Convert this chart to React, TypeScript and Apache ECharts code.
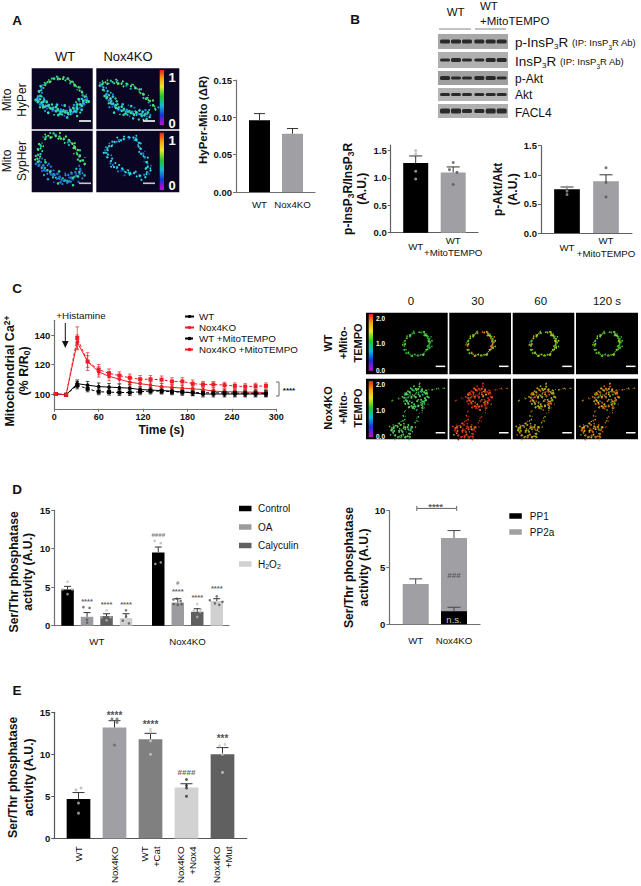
import React, { useEffect, useRef } from "react";
import * as echarts from "echarts";

const FONT = "Liberation Sans";

// ---------- Panel A ----------
const aCategories = ["WT", "Nox4KO"];
const aValues = [0.096, 0.078];
const aErrTop = [0.105, 0.085];

// ---------- Panel B ----------
const b1Categories = ["WT", "WT\n+MitoTEMPO"];
const b1Values = [1.27, 1.1];
const b1ErrTop = [1.4, 1.2];
const b1Dots = [[[0, 1.5], [0, 1.44], [0, 1.12], [0, 0.98]], [[0, 1.28], [-0.1, 1.15], [0.1, 1.1], [0, 0.88]]];
const b2Values = [0.75, 0.89];
const b2ErrTop = [0.79, 1.0];
const b2Dots = [[[0, 0.79], [0, 0.72], [0, 0.66]], [[0, 1.12], [0, 0.87], [0, 0.62]]];
const blotLabels = ["p-Akt", "Akt", "FACL4"];
const blotBandHeights = [[4, 4, 4, 4, 4, 4], [3, 4, 3, 3, 4, 4], [4, 3, 3, 4, 4, 3], [3, 3, 3, 3, 3, 3], [5, 5, 4, 4, 5, 5]];

// ---------- Panel C ----------
const cTimes = [2, 16, 31, 45, 60, 74, 88, 102, 116, 130, 145, 159, 173, 187, 201, 215, 230, 244, 258, 272, 286];
const cWT = [100, 99.5, 107, 106, 105, 104.7, 104.3, 104, 103, 102.7, 102.3, 102, 101.3, 100.8, 100, 100, 100, 100, 100, 100, 100];
const cNox = [100, 99.5, 135, 122, 115, 112, 110, 108, 107, 106, 105, 104.5, 104, 103.5, 103, 102, 101.5, 101.5, 101.3, 101.2, 101];
const cWTMito = [100, 99.5, 106, 103.5, 101.5, 101.3, 101, 101, 101.5, 102, 102, 101.5, 101.3, 101, 100.8, 100.8, 100.7, 100.6, 100.5, 100.5, 100.3];
const cNoxMito = [100, 99.5, 138, 122, 116.5, 114, 112.5, 111, 110, 110, 109.7, 108.5, 108.5, 107, 106.5, 106.5, 106, 105.5, 105, 105.3, 105.5];
const cErrWT = [0, 0.5, 2.5, 2.5, 2.5, 2.5, 2.5, 2.5, 2, 2, 2, 2, 2, 2, 2, 2, 2, 2, 2, 2, 2];
const cErrNox = [0, 0.5, 5, 6, 3.5, 3, 3, 2.5, 2.5, 2.5, 2, 2, 2, 2, 2, 2, 2, 2, 2, 2, 2];
const cErrWTMito = [0, 0.5, 2.5, 2, 2, 2, 2, 2, 2, 2, 2, 2, 2, 2, 2, 2, 2, 2, 2, 2, 2];
const cErrNoxMito = [0, 0.5, 7.5, 4, 3.5, 3, 2.5, 2.5, 2.5, 2.5, 2.5, 2.5, 2.5, 2.5, 2, 2, 2, 2, 2, 2, 2];
const cXTicks = [0, 60, 120, 180, 240, 300];
const cYTicks = [100, 120, 140];
const cFrames = ["0", "30", "60", "120 s"];

// ---------- Panel D ----------
const d1Categories = ["WT", "Nox4KO"];
const d1Names = ["Control", "OA", "Calyculin", "H2O2"];
const d1Colors = ["#000000", "#9c9ca0", "#606060", "#d0d0d0"];
const d1Values = [[4.7, 9.5], [1.15, 3.0], [1.25, 1.8], [1.0, 3.2]];
const d1ErrTop = [[5.1, 10.2], [1.7, 3.5], [1.55, 2.2], [1.55, 3.5]];
const d1Dots = [
  [[[0, 5.7], [-0.14, 4.7], [0.13, 4.7], [0, 4.1]], [[-0.1, 11], [0.07, 10.7], [-0.08, 8], [0.07, 8.2]]],
  [[[-0.1, 2.4], [0.07, 2.3], [0, 0.8], [0, 0.4]], [[-0.12, 3.4], [-0.03, 3.5], [0.08, 3.2], [-0.11, 2.8], [0, 2.7], [0.11, 2.8]]],
  [[[0, 2.0], [-0.14, 1.1], [0.11, 1.1], [0, 0.7]], [[0, 2.8], [-0.09, 1.95], [0.08, 1.8], [0, 1.15], [0.1, 2.1]]],
  [[[0, 2.0], [0, 1.2], [-0.09, 0.65], [0.08, 0.3]], [[0, 3.8], [-0.19, 3.3], [0.16, 3.1], [-0.05, 2.9], [0.07, 2.7]]],
];
const d1DotColors = ["#b8b8b8", "#555555", "#bbbbbb", "#555555"];
const d1Stars = [[0, 1, 3.1], [0, 2, 2.7], [0, 3, 2.8], [1, 1, 4.4], [1, 2, 3.6], [1, 3, 4.8]];
const d1Hashes = [[1, 0, 11.8, "####"], [1, 1, 5.66, "#"]];
const d2Categories = ["WT", "Nox4KO"];
const d2PP1 = [0, 1.15];
const d2PP2a = [3.55, 6.45];
const d2ErrPP1 = 1.5;
const d2ErrTotal = [4.0, 8.25];

// ---------- Panel E ----------
const eCategories = ["WT", "Nox4KO", "WT\n+Cat", "Nox4KO\n+Nox4", "Nox4KO\n+Mut"];
const eValues = [4.7, 13.2, 11.8, 6.05, 10];
const eErrTop = [5.45, 14, 12.5, 6.5, 10.8];
const eColors = ["#000000", "#a0a0a4", "#808080", "#d2d2d2", "#606060"];
const eDotColors = ["#b5b5b5", "#666666", "#c8c8c8", "#333333", "#c8c8c8"];
const eDots = [
  [[-0.07, 5.77], [0.07, 6.0], [0, 4.2], [0, 3.0]],
  [[-0.07, 14.2], [0.07, 14.2], [0.07, 13.8], [0, 11.1]],
  [[0, 13], [0, 12.7], [0, 11.6], [0, 10]],
  [[0, 7], [0, 6.3], [0, 6], [0, 5]],
  [[-0.08, 11], [0.07, 11.2], [0, 10], [0, 7.85]],
];
const eStars = [[1, 14.6, "****"], [2, 13.6, "****"], [4, 11.9, "***"]];
const eHashes = [[3, 7.8, "####"]];

// ---------- helpers ----------
const rainbow = {
  type: "linear", x: 0, y: 0, x2: 0, y2: 1,
  colorStops: [
    { offset: 0, color: "#e8201c" }, { offset: 0.15, color: "#f5a010" }, { offset: 0.3, color: "#e8e820" },
    { offset: 0.48, color: "#20c830" }, { offset: 0.65, color: "#10b8d8" }, { offset: 0.82, color: "#1830d8" }, { offset: 1, color: "#c010d0" },
  ],
};

const errRender = (color: string, cap: number, lw = 1) => (_: any, api: any) => {
  const x = api.value(0);
  const lo = api.coord([x, api.value(1)]);
  const hi = api.coord([x, api.value(2)]);
  const st = { stroke: color, lineWidth: lw };
  return {
    type: "group",
    children: [
      { type: "line", shape: { x1: lo[0], y1: lo[1], x2: hi[0], y2: hi[1] }, style: st },
      { type: "line", shape: { x1: hi[0] - cap, y1: hi[1], x2: hi[0] + cap, y2: hi[1] }, style: st },
    ],
  };
};

const errSeries = (g: number, data: number[][], color: string, cap: number, z = 4, lw = 1) => ({
  type: "custom", xAxisIndex: g, yAxisIndex: g, z, silent: true, clip: false,
  encode: { x: 0, y: [1, 2] }, renderItem: errRender(color, cap, lw), data,
});

const dotSeries = (g: number, data: any[], size = 3) => ({
  type: "scatter", xAxisIndex: g, yAxisIndex: g, z: 5, silent: true, clip: false, symbolSize: size, data,
});

const markSeries = (g: number, data: any[], fontSize = 7, color = "#222", weight: any = "bold") => ({
  type: "scatter", xAxisIndex: g, yAxisIndex: g, z: 6, silent: true, clip: false, symbolSize: 1,
  itemStyle: { color: "transparent" }, encode: { x: 0, y: 1 }, data,
  label: { show: true, position: "inside", formatter: (p: any) => p.value[2], fontSize, fontWeight: weight, color, fontFamily: FONT },
});

type Cfg = {
  left: number; right: number; top: number; bottom: number; c0: number; step: number;
  ymin: number; ymax: number; yticks: number[]; labels: string[]; ticksAt: number[];
  name: any; nameGap: number; nameShift?: number; axisColor?: string; labelFont?: number; margin?: number;
  rotate?: number; vAlign?: string; rich?: any; nameFont?: number; nameLine?: number;
};

const grids: any[] = [], xAxes: any[] = [], yAxes: any[] = [];
function panel(c: Cfg) {
  const color = c.axisColor || "#707070";
  const shift = c.nameShift || 0;
  const i = grids.length;
  grids.push({ left: c.left, top: c.top, width: c.right - c.left, height: c.bottom - c.top });
  xAxes.push({
    type: "value", gridIndex: i, min: (c.left - c.c0) / c.step, max: (c.right - c.c0) / c.step,
    splitLine: { show: false }, axisTick: { show: false },
    axisLine: { onZero: false, lineStyle: { color, width: 1.2 } },
    axisLabel: {
      customValues: c.ticksAt, formatter: (v: number) => c.labels[Math.round(v)] ?? "",
      fontSize: c.labelFont || 9.7, color: "#111", fontFamily: FONT, margin: c.margin ?? 6, rotate: c.rotate || 0,
      lineHeight: 12.5, verticalAlign: c.vAlign,
    },
  });
  yAxes.push({
    type: "value", gridIndex: i, min: c.ymin, max: c.ymax, splitLine: { show: false },
    axisLine: { onZero: false, show: true, lineStyle: { color, width: 1.2 } },
    axisTick: { show: true, length: 3, customValues: c.yticks, lineStyle: { color } },
    axisLabel: { customValues: c.yticks, fontSize: 9.5, fontWeight: "bold", color: "#111", fontFamily: FONT, margin: 4,
      formatter: (v: number) => (c.ymax < 1 ? v.toFixed(2) : c.ymax < 3 ? v.toFixed(1) : String(v)) },
    name: c.name, nameLocation: "middle", nameGap: c.nameGap, nameMoveOverlap: false,
    nameTextStyle: {
      fontSize: c.nameFont || 12.2, fontWeight: "bold", color: "#111", fontFamily: FONT, lineHeight: c.nameLine || 14.5,
      padding: shift > 0 ? [0, shift, 0, 0] : [0, 0, 0, -shift], rich: c.rich,
    },
  });
  return i;
}

const subRich = {
  s: { fontSize: 8.5, fontWeight: "bold", verticalAlign: "bottom", fontFamily: FONT, color: "#111", lineHeight: 14.5 },
  u: { fontSize: 8.5, fontWeight: "bold", verticalAlign: "top", fontFamily: FONT, color: "#111", lineHeight: 14.5 },
};

function singleBars(g: number, values: number[], errTop: number[], colors: string[], barWidth: number, cap: number, errColor = "#333") {
  return [
    {
      type: "bar", xAxisIndex: g, yAxisIndex: g, barWidth, z: 3, silent: true,
      data: values.map((v, k) => ({ value: [k, v], itemStyle: { color: colors[k] } })),
    },
    errSeries(g, values.map((v, k) => [k, v, errTop[k]]), errColor, cap),
  ];
}
const dotItems = (dots: number[][][], colors: string[]) =>
  dots.flatMap((arr, k) => arr.map(([j, v]) => ({ value: [k + j, v], itemStyle: { color: colors[k] } })));

// ---------- build chart ----------
function buildOption() {
  grids.length = 0; xAxes.length = 0; yAxes.length = 0;
  const series: any[] = [];

  // A
  const gA = panel({ left: 236, right: 315, top: 80, bottom: 192, c0: 259.5, step: 33, ymin: 0, ymax: 0.15, yticks: [0, 0.05, 0.1, 0.15],
    labels: aCategories, ticksAt: [0, 1], name: "HyPer-Mito (ΔR)", nameGap: 26, nameShift: -32, nameFont: 11.5, margin: 6 });
  series.push(...singleBars(gA, aValues, aErrTop, ["#000000", "#a0a0a4"], 21, 5.5));

  // B1
  const gB1 = panel({ left: 390.7, right: 478, top: 145, bottom: 232.7, c0: 415.7, step: 37.5, ymin: 0, ymax: 1.6, yticks: [0, 0.5, 1, 1.5],
    labels: b1Categories, ticksAt: [0, 1], name: "p-InsP{s|3}R/InsP{s|3}R\n(A.U.)", rich: subRich, nameGap: 21, margin: 14, vAlign: "middle", axisColor: "#606060", nameFont: 12 });
  series.push(...singleBars(gB1, b1Values, b1ErrTop, ["#000000", "#a0a0a4"], 25, 6.5));
  series.push(dotSeries(gB1, dotItems(b1Dots, ["#b5b5b5", "#555555"]), 3));

  // B2
  const gB2 = panel({ left: 541, right: 632, top: 145.7, bottom: 233, c0: 567, step: 39, ymin: 0, ymax: 1.5, yticks: [0, 0.5, 1, 1.5],
    labels: b1Categories, ticksAt: [0, 1], name: "p-Akt/Akt\n(A.U.)", nameGap: 21, margin: 14, vAlign: "middle", axisColor: "#606060", nameFont: 12 });
  series.push(...singleBars(gB2, b2Values, b2ErrTop, ["#000000", "#a0a0a4"], 25.7, 6.5));
  series.push(dotSeries(gB2, dotItems(b2Dots, ["#999999", "#555555"]), 3));

  // C
  const gC = grids.length;
  grids.push({ left: 54.3, top: 320.25, width: 222, height: 88.5 });
  xAxes.push({
    type: "value", gridIndex: gC, min: 0, max: 300, splitLine: { show: false },
    axisLine: { onZero: false, lineStyle: { color: "#707070", width: 1.2 } },
    axisTick: { show: true, length: 3, customValues: cXTicks, lineStyle: { color: "#707070" } },
    axisLabel: { customValues: cXTicks, fontSize: 9, fontWeight: "bold", color: "#111", fontFamily: FONT, margin: 4 },
    name: "Time (s)", nameLocation: "middle", nameGap: 15,
    nameTextStyle: { fontSize: 12, fontWeight: "bold", color: "#111", fontFamily: FONT, padding: [0, 8, 0, 0] },
  });
  yAxes.push({
    type: "value", gridIndex: gC, min: 90, max: 150, splitLine: { show: false },
    axisLine: { onZero: false, show: true, lineStyle: { color: "#707070", width: 1.2 } },
    axisTick: { show: true, length: 3, customValues: cYTicks, lineStyle: { color: "#707070" } },
    axisLabel: { customValues: cYTicks, fontSize: 9.5, fontWeight: "bold", color: "#111", fontFamily: FONT, margin: 4 },
    name: "Mitochondrial Ca{u|2+}\n(% R/R{s|0})", nameLocation: "middle", nameGap: 23, nameMoveOverlap: false,
    nameTextStyle: { fontSize: 12.5, fontWeight: "bold", color: "#111", fontFamily: FONT, lineHeight: 14.5, rich: subRich, padding: [0, 13, 0, 0] },
  });
  const cLines = [
    ["WT", cWT, cErrWT, "#000000", "solid", "circle"],
    ["Nox4KO", cNox, cErrNox, "#ee1c25", "solid", "circle"],
    ["WT +MitoTEMPO", cWTMito, cErrWTMito, "#000000", [3, 2], "rect"],
    ["Nox4KO +MitoTEMPO", cNoxMito, cErrNoxMito, "#ee1c25", [3, 2], "rect"],
  ] as any[];
  cLines.forEach(([name, vals, errs, color, dash, sym]) => {
    series.push({
      type: "line", name, xAxisIndex: gC, yAxisIndex: gC, z: 4, silent: true,
      data: cTimes.map((t, k) => [t, vals[k]]), symbol: sym, symbolSize: sym === "rect" ? 4 : 3.6,
      showSymbol: true, itemStyle: { color }, lineStyle: { color, width: 1, type: dash },
    });
    series.push(errSeries(gC, cTimes.map((t, k) => [t, vals[k] - errs[k], vals[k] + errs[k]]), color, 1.8, 3, 0.7));
    const down = (_: any, api: any) => {
      const lo = api.coord([api.value(0), api.value(1)]);
      return { type: "line", shape: { x1: lo[0] - 1.8, y1: lo[1], x2: lo[0] + 1.8, y2: lo[1] }, style: { stroke: color, lineWidth: 0.7 } };
    };
    series.push({ type: "custom", xAxisIndex: gC, yAxisIndex: gC, z: 3, silent: true, encode: { x: 0, y: 1 }, renderItem: down,
      data: cTimes.map((t, k) => [t, vals[k] - errs[k]]) });
  });

  // D1
  const gD1 = panel({ left: 54.3, right: 229, top: 510, bottom: 625.7, c0: 96.8, step: 90.7, ymin: 0, ymax: 15, yticks: [0, 5, 10, 15],
    labels: d1Categories, ticksAt: [0, 1], name: "Ser/Thr phosphatase\nactivity (A.U.)", nameGap: 19, nameShift: 8, margin: 10 });
  const slot = 19.5 / 90.7;
  d1Names.forEach((name, s) => {
    series.push({
      type: "bar", name, xAxisIndex: gD1, yAxisIndex: gD1, barWidth: 12.5, barGap: "56%", z: 3, silent: true,
      itemStyle: { color: d1Colors[s] }, data: d1Values[s].map((v, k) => [k, v]),
    });
    const off = (s - 1.5) * slot;
    series.push(errSeries(gD1, d1Values[s].map((v, k) => [k + off, v, d1ErrTop[s][k]]), "#333", 3.5, 4));
    series.push(dotSeries(gD1, d1Dots[s].flatMap((arr, k) => arr.map(([j, v]) => ({ value: [k + off + j * 0.4, v], itemStyle: { color: d1DotColors[s] } }))), 2.6));
  });
  series.push(markSeries(gD1, d1Stars.map(([k, s, y]) => [k + (s - 1.5) * slot, y, "****"]), 7.5, "#333"));
  series.push(markSeries(gD1, d1Hashes.map(([k, s, y, t]: any) => [k + (s - 1.5) * slot, y, t]), 6.2, "#555"));

  // D2 (PP2a is drawn up to the PP1 + PP2a total, behind PP1)
  const gD2 = panel({ left: 389.3, right: 480, top: 510.7, bottom: 624.3, c0: 415.7, step: 38.3, ymin: 0, ymax: 10, yticks: [0, 5, 10],
    labels: d2Categories, ticksAt: [0, 1], name: "Ser/Thr phosphatase\nactivity (A.U.)", nameGap: 18, nameLine: 15, margin: 10 });
  series.push({ type: "bar", name: "PP1", xAxisIndex: gD2, yAxisIndex: gD2, barWidth: 26, barGap: "-100%", z: 3, silent: true,
    itemStyle: { color: "#000" }, data: d2PP1.map((v, k) => [k, v]) });
  series.push({ type: "bar", name: "PP2a", xAxisIndex: gD2, yAxisIndex: gD2, barWidth: 26, barGap: "-100%", z: 2, silent: true,
    itemStyle: { color: "#a0a0a4" }, data: d2PP2a.map((v, k) => [k, v + d2PP1[k]]) });
  series.push(errSeries(gD2, d2ErrTotal.map((e, k) => [k, d2PP1[k] + d2PP2a[k], e]), "#444", 6.5));
  series.push(errSeries(gD2, [[1, d2PP1[1], d2ErrPP1]], "#444", 6.5));
  series.push(markSeries(gD2, [[1, 4.3, "###"]], 8, "#444"));
  series.push(markSeries(gD2, [[1, 0.42, "n.s."]], 9.5, "#fff", "normal"));
  series.push(markSeries(gD2, [[0.52, 10.35, "****"]], 9.5, "#333"));
  series.push({
    type: "custom", xAxisIndex: gD2, yAxisIndex: gD2, silent: true, clip: false, encode: { x: 0, y: 1 }, z: 5,
    data: [[0.03, 10.2, 1.07]],
    renderItem: (_: any, api: any) => {
      const a = api.coord([api.value(0), api.value(1)]);
      const b = api.coord([api.value(2), api.value(1)]);
      const st = { stroke: "#666", lineWidth: 1 };
      return { type: "group", children: [
        { type: "line", shape: { x1: a[0], y1: a[1], x2: b[0], y2: b[1] }, style: st },
        { type: "line", shape: { x1: a[0], y1: a[1] - 2.5, x2: a[0], y2: a[1] + 2.5 }, style: st },
        { type: "line", shape: { x1: b[0], y1: b[1] - 2.5, x2: b[0], y2: b[1] + 2.5 }, style: st },
      ] };
    },
  });

  // E
  const gE = panel({ left: 54.3, right: 246.7, top: 712.3, bottom: 839.7, c0: 78.5, step: 36, ymin: 0, ymax: 15, yticks: [0, 5, 10, 15],
    labels: eCategories, ticksAt: [0, 1, 2, 3, 4], name: "Ser/Thr phosphatase\nactivity (A.U.)", nameGap: 17, nameShift: 4, nameLine: 16, rotate: 90, margin: 8, axisColor: "#555" });
  series.push(...singleBars(gE, eValues, eErrTop, eColors, 23.7, 6));
  series.push(dotSeries(gE, dotItems(eDots, eDotColors), 3));
  series.push(markSeries(gE, eStars, 10, "#222"));
  series.push(markSeries(gE, eHashes, 8, "#333"));

  const legendText = { fontFamily: FONT, color: "#111" };
  const legend: any[] = [
    {
      left: 184, top: 311, padding: 0, orient: "vertical", itemGap: 0, itemWidth: 9, itemHeight: 4, selectedMode: false,
      textStyle: { ...legendText, fontSize: 9.8, lineHeight: 11 },
      data: cLines.map((l) => l[0]),
    },
    {
      left: 239, top: 503, padding: 0, orient: "vertical", itemGap: 7.5, itemWidth: 12.5, itemHeight: 5.5, icon: "rect", selectedMode: false,
      textStyle: { ...legendText, fontSize: 10, lineHeight: 11, padding: [0, 0, 0, 1.5], rich: { s: { fontSize: 7, verticalAlign: "bottom", fontFamily: FONT, color: "#111", lineHeight: 11 } } },
      formatter: (n: string) => (n === "H2O2" ? "H{s|2}O{s|2}" : n),
      data: d1Names,
    },
    {
      left: 509.3, top: 510.5, padding: 0, orient: "vertical", itemGap: 5, itemWidth: 12.5, itemHeight: 5.5, icon: "rect", selectedMode: false,
      textStyle: { ...legendText, fontSize: 10, lineHeight: 11, padding: [0, 0, 0, 3] },
      data: ["PP1", "PP2a"],
    },
  ];

  return { animation: false, textStyle: { fontFamily: FONT }, grid: grids, xAxis: xAxes, yAxis: yAxes, series, legend, graphic: { elements: buildGraphics() } };
}

// ---------- decoration (micrographs, blots, labels) ----------
function txt(x: number, y: number, text: string, fontSize: number, extra: any = {}, rotation = 0) {
  return {
    type: "text", x, y, rotation, silent: true,
    style: { text, fontSize, fontFamily: FONT, fill: "#111", align: "center", verticalAlign: "middle", lineHeight: fontSize * 1.28, ...extra },
  };
}
const rect = (x: number, y: number, w: number, h: number, fill: any) => ({ type: "rect", silent: true, shape: { x, y, width: w, height: h }, style: { fill } });

// Scatters mitochondria-like specks along an outline; the pattern is fixed, not random.
function speck(pts: number[][], palette: string[], spread: number, r: number, step = 1.5) {
  const out: any[] = [];
  let k = 0;
  const stride = step * 0.7;
  for (let i = 0; i + 1 < pts.length; i++) {
    const [x0, y0] = pts[i], [x1, y1] = pts[i + 1];
    const len = Math.hypot(x1 - x0, y1 - y0) || 1;
    const nx = -(y1 - y0) / len, ny = (x1 - x0) / len;
    for (let d = 0; d < len; d += stride, k++) {
      const t = d / len;
      const off = spread * Math.sin(k * 2.399) * (0.55 + 0.45 * Math.cos(k * 0.77));
      const along = 0.9 * Math.sin(k * 1.31);
      const c = palette[Math.floor(Math.abs(Math.sin(k * 0.91)) * palette.length * 0.999)];
      out.push({
        type: "circle", silent: true,
        shape: { cx: x0 + (x1 - x0) * t + nx * off + (x1 - x0) / len * along, cy: y0 + (y1 - y0) * t + ny * off + (y1 - y0) / len * along, r: r * (0.55 + 0.5 * Math.abs(Math.sin(k * 1.73))) },
        style: { fill: c },
      });
    }
  }
  return out;
}
const move = (pts: number[][], dx: number, dy = 0) => pts.map(([x, y]) => [x + dx, y + dy]);

function buildGraphics() {
  const g: any[] = [];
  const letters: [string, number, number][] = [["A", 17, 20], ["B", 355, 19], ["C", 17, 288], ["D", 17, 489], ["E", 17, 690]];
  letters.forEach(([t, x, y]) => g.push(txt(x, y, t, 13.5, { fontWeight: "bold" })));

  // ---- A micrographs ----
  g.push(txt(65, 56, "WT", 13), txt(128, 56, "Nox4KO", 13));
  g.push(txt(14.5, 100, "Mito\nHyPer", 12, { lineHeight: 15 }, Math.PI / 2), txt(14.5, 161, "Mito\nSypHer", 12, { lineHeight: 15 }, Math.PI / 2));
  const navy = "#0a0522";
  g.push(rect(31.7, 68.3, 61, 61, navy), rect(96.3, 68.3, 83, 61, navy), rect(31.7, 130.7, 61, 61.6, navy), rect(96.3, 130.7, 83, 61.6, navy));
  const upper = ["#40e080", "#20c8a0", "#18b0c8", "#60e860"];
  const lower = ["#1890e8", "#20c8d8", "#2858d8", "#30e0c0", "#38d8a0"];
  const sparse = ["#1888e0", "#20c8e0", "#2050d0", "#30e0d8"];
  g.push(...speck([[43, 85], [55, 78], [68, 79], [78, 88], [87, 98]], upper, 2, 1.1));
  g.push(...speck([[43, 85], [38, 97]], lower, 3, 1.3));
  g.push(...speck([[38, 97], [43, 105], [57, 110], [72, 113], [83, 102], [87, 98]], lower, 6, 1.4, 0.8));
  g.push(...speck([[100, 83], [117, 82], [135, 87], [147, 98], [157, 110]], upper, 3, 1.1));
  g.push(...speck([[100, 83], [107, 93]], lower, 3, 1.2));
  g.push(...speck([[107, 93], [115, 107], [133, 113], [150, 115]], lower, 6, 1.3, 0.8));
  g.push(...speck([[43, 137], [57, 135], [72, 143], [80, 157], [85, 165]], upper, 4, 1.2));
  g.push(...speck([[42, 143], [37, 157], [38, 160]], upper, 4, 1.2));
  g.push(...speck([[38, 160], [50, 173], [67, 182], [83, 170]], ["#20b8a8", "#38d890", "#1898d8", "#2070d8"], 7, 1.3, 0.9));
  g.push(...speck([[105, 150], [117, 140], [135, 137], [140, 148], [147, 163], [150, 170]], sparse, 3, 1.1));
  g.push(...speck([[105, 150], [113, 165], [128, 173], [143, 177], [150, 170]], sparse, 4, 1.1));
  [[68.3, 70, 125, 121, "1", "0", 77, 123, "#fff"], [130.7, 132.7, 190, 183.3, "1", "0", 140, 185, "#c8c8c8"]].forEach((r: any) => {
    g.push(rect(159.7, r[1], 4.3, r[2] - r[1], rainbow));
    g.push(txt(172, r[6], r[4], 13, { fill: "#fff", fontWeight: "bold" }), txt(172, r[7], r[5], 13, { fill: "#fff", fontWeight: "bold" }));
    g.push(rect(79, r[3] - 0.8, 12, 1.6, r[8]), rect(143, r[3] - 0.8, 12, 1.6, r[8]));
  });

  // ---- B blots ----
  g.push(txt(455.7, 12, "WT", 11.5));
  g.push(txt(480, 13.5, "WT\n+MitoTEMPO", 11.5, { align: "left", lineHeight: 15 }));
  g.push({ type: "line", silent: true, shape: { x1: 439, y1: 29, x2: 471, y2: 29 }, style: { stroke: "#999", lineWidth: 1.2 } });
  g.push({ type: "line", silent: true, shape: { x1: 475, y1: 29, x2: 506, y2: 29 }, style: { stroke: "#999", lineWidth: 1.2 } });
  const rows = [[34, 49], [52, 68], [71, 85], [88, 101], [104, 118]];
  const rowBg = ["#a8a8a8", "#b0b0b0", "#a0a0a0", "#b4b4b4", "#b0b0b0"];
  const bandX = [445, 456, 467, 479.3, 490.7, 501.7];
  rows.forEach(([a, b], r) => {
    g.push(rect(438, a, 70, b - a, rowBg[r]));
    bandX.forEach((x, k) => {
      const h = blotBandHeights[r][k];
      g.push({ type: "rect", silent: true, shape: { x: x - 5, y: (a + b) / 2 - h / 2, width: 10, height: h, r: 1.5 }, style: { fill: "#2a2a2a" } });
    });
  });
  const labRich = {
    sub: { fontSize: 8, verticalAlign: "bottom", fontFamily: FONT, fill: "#111", color: "#111", lineHeight: 15 },
    m: { fontSize: 9.5, fontFamily: FONT, color: "#111", fill: "#111", lineHeight: 15 },
    ms: { fontSize: 6.5, verticalAlign: "bottom", fontFamily: FONT, color: "#111", fill: "#111", lineHeight: 15 },
  };
  g.push(txt(515, 42, "p-InsP{sub|3}R {m|(IP: InsP}{ms|3}{m|R Ab)}", 13.5, { align: "left", rich: labRich }));
  g.push(txt(515, 61, "InsP{sub|3}R {m|(IP: InsP}{ms|3}{m|R Ab)}", 13.5, { align: "left", rich: labRich }));
  [78.5, 95, 113].forEach((y, k) => g.push(txt(515, y, blotLabels[k], 12, { align: "left" })));

  // ---- C annotations ----
  g.push(txt(81, 315, "+Histamine", 9.8));
  g.push({ type: "line", silent: true, shape: { x1: 65.3, y1: 323, x2: 65.3, y2: 341 }, style: { stroke: "#111", lineWidth: 1 } });
  g.push({ type: "polygon", silent: true, shape: { points: [[62, 341], [68.6, 341], [65.3, 348]] }, style: { fill: "#111" } });
  g.push({ type: "polyline", silent: true, shape: { points: [[276, 382], [279, 382], [279, 396], [276, 396]] }, style: { stroke: "#666", lineWidth: 1, fill: "none" } });
  g.push(txt(289, 390, "****", 8, { fontWeight: "bold" }));

  // ---- C micrographs ----
  const cols = [[366, 447.7], [449.3, 511], [512.7, 574.3], [576, 638]];
  const titleX = [411, 477.7, 540.7, 607];
  cFrames.forEach((t, k) => g.push(txt(titleX[k], 301, t, 11.5)));
  g.push(txt(342.5, 343, "WT\n+Mito-\nTEMPO", 11, { fontWeight: "bold", lineHeight: 15 }, Math.PI / 2));
  g.push(txt(342.5, 408, "Nox4KO\n+Mito-\nTEMPO", 11, { fontWeight: "bold", lineHeight: 15 }, Math.PI / 2));
  const ring = [[-40, 337], [-33, 332], [-24, 332], [-19, 338], [-19, 348], [-26, 355], [-36, 356], [-43, 350], [-44, 343], [-40, 337]];
  const ringThick = [[-24, 333], [-17, 339], [-18, 348]];
  const proc = [[-58, 401], [-34, 394], [-18, 390], [-1, 388]];
  const spur = [[-30, 385], [-25, 381]];
  const body = [[-43, 393], [-31, 388], [-21, 393], [-23, 403], [-34, 408], [-41, 403], [-43, 393]];
  const bodyIn = [[-38, 396], [-28, 396], [-30, 403]];
  const armL = [[-43, 408], [-44, 420], [-51, 427]];
  const armR = [[-23, 405], [-31, 420], [-34, 428]];
  const blob = [[-56, 427], [-48, 425], [-36, 428], [-39, 437], [-51, 437], [-56, 432], [-56, 427]];
  const blobIn = [[-50, 430], [-42, 431]];
  const ringC = [["#20c030", "#60e030", "#30a040"], ["#e8a020", "#b0d020", "#e05020", "#60c030"], ["#a0d020", "#e8c020", "#50c030"], ["#30c830", "#90e020", "#50b030"]];
  const cellC = [["#20a848", "#40c860", "#30b090", "#60d050"], ["#e03018", "#f06010", "#d0b010", "#c02020"], ["#e06018", "#d0a020", "#c04010", "#90b020"], ["#a0b020", "#e0b020", "#50a030", "#d06018"]];
  cols.forEach(([l, r], k) => {
    g.push(rect(l, 312.7, r - l, 61.6, "#000"), rect(l, 378.7, r - l, 60.6, "#000"));
    g.push(...speck(move(ring, r), ringC[k], 1.5, 0.9, 1.6), ...speck(move(ringThick, r), ringC[k], 2.5, 0.9, 1.6));
    g.push(...speck(move(proc, r), cellC[k], 1, 0.6, 1.8), ...speck(move(spur, r), cellC[k], 0.5, 0.7, 1.5));
    g.push(...speck(move(body, r), cellC[k], 3.5, 1, 1), ...speck(move(bodyIn, r), cellC[k], 3, 1, 1.2));
    g.push(...speck(move(armL, r), cellC[k], 2, 0.7, 1.6), ...speck(move(armR, r), cellC[k], 2, 0.7, 1.6));
    g.push(...speck(move(blob, r), cellC[k], 3, 0.9, 1.1), ...speck(move(blobIn, r), cellC[k], 3, 0.9, 1));
    g.push(rect(r - 12, 365.6, 9.5, 1.5, "#fff"), rect(r - 12, 432, 9.5, 1.5, "#fff"));
  });
  [[314, 370.7, 318, 343, 370], [381, 437, 384.5, 410, 436]].forEach((c) => {
    g.push(rect(368.7, c[0], 4.3, c[1] - c[0], rainbow));
    ["2.0", "1.0", "0.0"].forEach((t, k) => g.push(txt(380.5, c[2 + k], t, 6.5, { fill: "#fff", fontWeight: "bold" })));
  });
  return g;
}

export default function App() {
  const ref = useRef<HTMLDivElement>(null);
  useEffect(() => {
    document.body.style.margin = "0";
    const chart = echarts.init(ref.current!, null, { renderer: "svg", width: 641, height: 886 });
    chart.setOption(buildOption() as any);
    return () => chart.dispose();
  }, []);
  return <div ref={ref} style={{ width: 641, height: 886, background: "#fff" }} />;
}
